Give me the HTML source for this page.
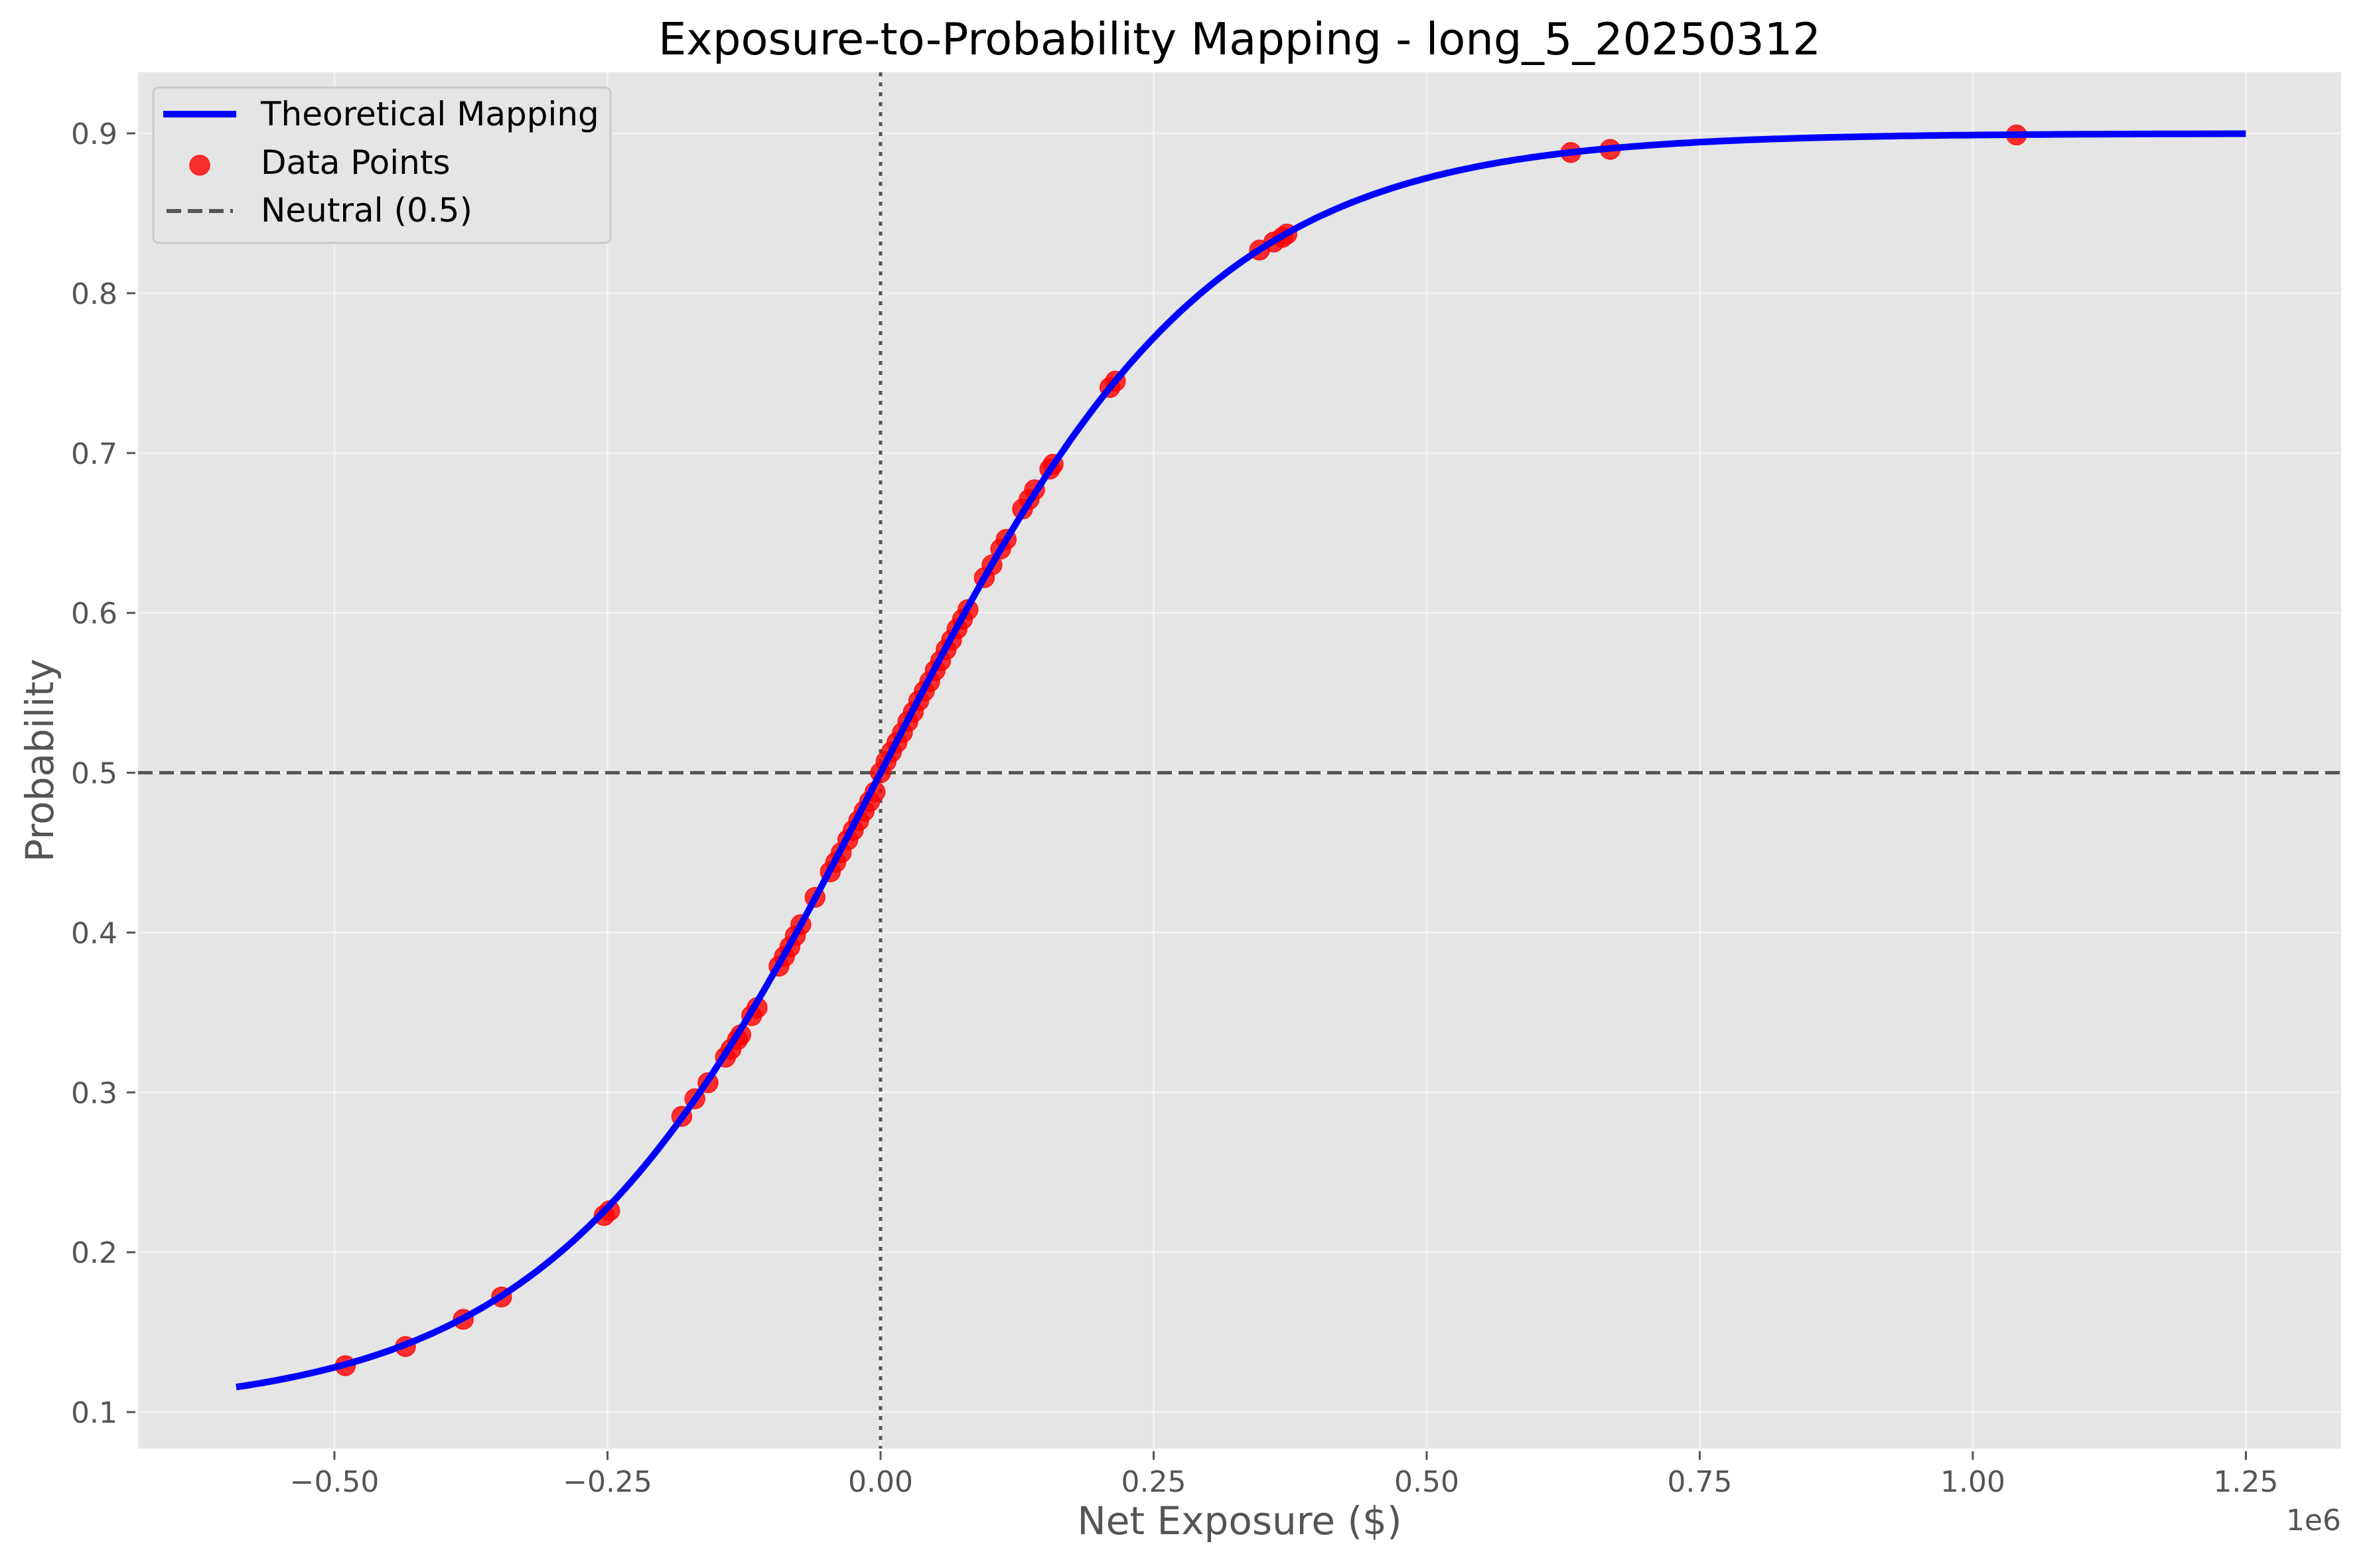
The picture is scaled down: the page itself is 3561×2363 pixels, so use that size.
<!DOCTYPE html>
<html><head><meta charset="utf-8"><style>html,body{margin:0;padding:0;background:#fff}svg{display:block}</style></head>
<body>
<svg id="chart" width="3561" height="2363" viewBox="0 0 3561 2363" xmlns="http://www.w3.org/2000/svg" font-family="'DejaVu Sans','Liberation Sans',sans-serif">
<rect x="0" y="0" width="3561" height="2363" fill="#ffffff"/>
<rect x="208" y="109" width="3320" height="2074" fill="#E5E5E5"/>
<g id="grid"></g>
<g id="refs"></g>
<g id="series"></g>
<g id="axes"></g>
<text x="1868" y="82" text-anchor="middle" font-size="67" fill="#000">Exposure-to-Probability Mapping - long_5_20250312</text>
<text x="1868" y="2312" text-anchor="middle" font-size="58" fill="#555">Net Exposure ($)</text>
<text x="0" y="0" transform="translate(80,1146) rotate(-90)" text-anchor="middle" font-size="58" fill="#555">Probability</text>
<text x="3528" y="2306" text-anchor="end" font-size="44" fill="#555">1e6</text>
<g>
<rect x="231" y="132" width="689" height="234" rx="8" fill="#E5E5E5" stroke="#CCCCCC" stroke-width="3"/>
<line x1="246" y1="172" x2="356" y2="172" stroke="#0000FF" stroke-width="10"/>
<text x="393" y="189" font-size="50" fill="#000">Theoretical Mapping</text>
<circle cx="301" cy="249" r="15" fill="#FF0000" fill-opacity="0.8" stroke="#FF0000" stroke-opacity="0.8" stroke-width="1.5"/>
<text x="393" y="262" font-size="50" fill="#000">Data Points</text>
<line x1="251" y1="318" x2="351" y2="318" stroke="#555" stroke-width="6" stroke-dasharray="22,10"/>
<text x="393" y="334" font-size="50" fill="#000">Neutral (0.5)</text>
</g>
</svg>
<script>
const xTicks = [-0.5, -0.25, 0.0, 0.25, 0.5, 0.75, 1.0, 1.25];
const xTickLabels = ["\u22120.50", "\u22120.25", "0.00", "0.25", "0.50", "0.75", "1.00", "1.25"];
const yTicks = [0.1, 0.2, 0.3, 0.4, 0.5, 0.6, 0.7, 0.8, 0.9];
const yTickLabels = ["0.1", "0.2", "0.3", "0.4", "0.5", "0.6", "0.7", "0.8", "0.9"];
const curveRange = [-0.59, 1.25];
const curveScale = 0.1507;
const curveFloor = 0.1;
const curveSpan = 0.8;
const pointX = [-0.49,-0.435,-0.382,-0.347,-0.253,-0.248,-0.182,-0.170,-0.158,-0.142,-0.137,-0.131,-0.128,-0.118,-0.113,-0.093,-0.088,-0.083,-0.078,-0.073,-0.060,-0.046,-0.041,-0.036,-0.030,-0.025,-0.020,-0.015,-0.010,-0.005,0.000,0.005,0.010,0.015,0.020,0.025,0.030,0.035,0.040,0.045,0.050,0.055,0.060,0.065,0.070,0.075,0.080,0.095,0.102,0.110,0.115,0.130,0.136,0.141,0.155,0.158,0.210,0.215,0.347,0.360,0.368,0.372,0.632,0.668,1.04];
const pointY = [0.129,0.141,0.158,0.172,0.223,0.226,0.285,0.296,0.306,0.322,0.327,0.333,0.336,0.348,0.353,0.379,0.385,0.391,0.398,0.405,0.422,0.438,0.444,0.450,0.458,0.464,0.470,0.476,0.482,0.488,0.500,0.507,0.513,0.519,0.525,0.532,0.538,0.545,0.551,0.557,0.564,0.570,0.577,0.583,0.590,0.596,0.602,0.622,0.630,0.640,0.646,0.665,0.671,0.677,0.690,0.693,0.741,0.745,0.827,0.832,0.835,0.837,0.888,0.890,0.899];
const neutralLevel = 0.5;
const zeroExposure = 0.0;

const NS = "http://www.w3.org/2000/svg";
const plot = {l:208, t:109, r:3528, b:2183};
function xPx(v){ return 1327 + v * 1646; }
function yPx(v){ return 2128 - (v - 0.1) * 2408.75; }
function mk(tag, attrs, parent){ const e=document.createElementNS(NS,tag); for(const k in attrs) e.setAttribute(k, attrs[k]); parent.appendChild(e); return e; }

const grid = document.getElementById('grid');
const axes = document.getElementById('axes');
xTicks.forEach((t,i)=>{
  const x=xPx(t);
  const g=mk('line',{x1:x,y1:plot.t,x2:x,y2:plot.b,stroke:'#ffffff','stroke-opacity':0.45,'stroke-width':3},grid);
  
  
  const tk=mk('line',{x1:x,y1:2187,x2:x,y2:2200,stroke:'#555','stroke-width':3},axes);
  
  
  const lb=mk('text',{x:x,y:2248,'text-anchor':'middle','font-size':44,fill:'#555'},axes);
  lb.textContent=xTickLabels[i];
  
  
});
yTicks.forEach((t,i)=>{
  const y=yPx(t);
  const g=mk('line',{x1:plot.l,y1:y,x2:plot.r,y2:y,stroke:'#ffffff','stroke-opacity':0.45,'stroke-width':3},grid);
  
  
  const tk=mk('line',{x1:191,y1:y,x2:204,y2:y,stroke:'#555','stroke-width':3},axes);
  
  
  const lb=mk('text',{x:177,y:y+16,'text-anchor':'end','font-size':44,fill:'#555'},axes);
  lb.textContent=yTickLabels[i];
  
  
});

const refs = document.getElementById('refs');
const hl=mk('line',{x1:plot.l,y1:yPx(neutralLevel),x2:plot.r,y2:yPx(neutralLevel),stroke:'#555','stroke-width':5,'stroke-dasharray':'22,10'},refs);


const vl=mk('line',{x1:xPx(zeroExposure),y1:plot.t,x2:xPx(zeroExposure),y2:plot.b,stroke:'#555','stroke-width':5,'stroke-dasharray':'6,9'},refs);



const series = document.getElementById('series');
let d='';
const N=400;
for(let i=0;i<=N;i++){
  const x=curveRange[0]+(curveRange[1]-curveRange[0])*i/N;
  const p=curveFloor+curveSpan/(1+Math.exp(-x/curveScale));
  d+=(i?'L':'M')+xPx(x).toFixed(1)+','+yPx(p).toFixed(1);
}
pointX.forEach((x,i)=>{
  const c=mk('circle',{cx:xPx(x),cy:yPx(pointY[i]),r:15,fill:'#FF0000','fill-opacity':0.8,stroke:'#FF0000','stroke-opacity':0.8,'stroke-width':1.5},series);
  
  
});
const path=mk('path',{d:d,fill:'none',stroke:'#0000FF','stroke-width':10,'stroke-linejoin':'round'},series);


</script>
</body></html>
